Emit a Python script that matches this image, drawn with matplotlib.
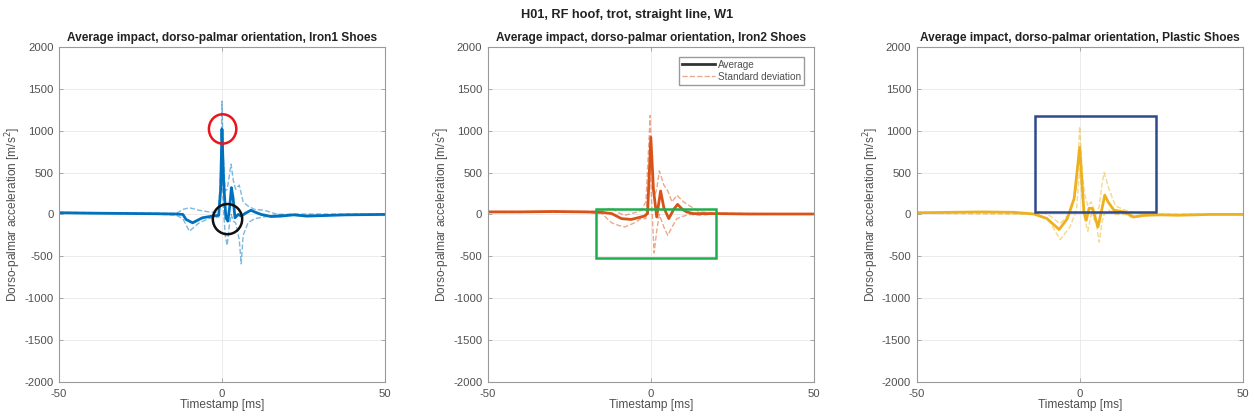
import matplotlib
matplotlib.use('Agg')
import matplotlib.pyplot as plt
import matplotlib.patches as mpatches
from matplotlib.lines import Line2D

plt.rcParams.update({
    'font.family': ['Liberation Sans', 'DejaVu Sans'],
    'font.size': 8,
    'axes.unicode_minus': False,
    'axes.edgecolor': '#9a9a9a',
    'axes.linewidth': 0.8,
    'xtick.color': '#9a9a9a',
    'ytick.color': '#9a9a9a',
    'xtick.labelcolor': '#505050',
    'ytick.labelcolor': '#505050',
})

# ---- data: mean and +/- std envelopes per shoe type ----
shoes = ['Iron1', 'Iron2', 'Plastic']
colors = ['#0072BD', '#D95319', '#EDB120']

t_iron1 = [-50, -40, -30, -20, -14, -12, -11, -9, -6, -3, -1, -0.4, 0, 0.5, 1.2, 1.8, 2.4, 2.9, 3.4, 4, 5, 6, 7, 8.9,
           10, 12, 15, 18, 22, 26, 30, 38, 50]
avg_iron1 = [20, 15, 12, 8, 5, 0, -60, -100, -40, -20, -10, 300, 1020, 400, -40, -80, 100, 320, 200, -40, 0, -20,
             10, 50, 30, 0, -25, -20, -5, -20, -15, -5, 0]
t_iron1_sd = [-50, -20, -14, -12, -10, -7, -4, -1, -0.3, 0, 0.4, 1, 1.6, 2.2, 2.8, 3.5, 4.2, 5.3, 5.9, 6.5, 8, 10,
              13, 17, 22, 50]
up_iron1 = [25, 15, 10, 60, 80, 50, 30, 20, 600, 1350, 700, 280, 300, 450, 600, 400, 300, 350, 250, 150, 100, 60,
            50, 0, 5, 5]
lo_iron1 = [15, 5, -10, -50, -200, -100, -50, -30, 300, 650, 100, -250, -370, -150, 0, -80, -100, -300, -590, -250,
            -100, -50, -30, 0, -10, -5]

t_iron2 = [-50, -40, -30, -20, -15, -12, -9, -6, -4, -2, -1, 0, 0.8, 1.8, 3, 4, 5.5, 7, 8.2, 9.7, 11, 13, 20, 30, 50]
avg_iron2 = [30, 30, 35, 30, 25, 10, -50, -60, -40, -20, 10, 920, 300, -30, 280, 80, -50, 60, 120, 60, 30, 10, 10,
             5, 5]
t_iron2_sd = [-50, -20, -15, -12, -10, -8, -5, -3, -1.5, -0.2, 0.3, 1, 1.8, 2.6, 4, 5.2, 6.5, 8, 10, 12, 15, 20, 50]
up_iron2 = [35, 35, 40, 80, 20, -10, 20, 50, 150, 1180, 600, 200, 300, 520, 350, 280, 150, 230, 150, 100, 30, 15, 5]
lo_iron2 = [25, 25, 10, -100, -130, -150, -100, -50, -50, 620, 100, -460, -200, 0, -150, -250, -150, -50, -20, 0,
            -10, 5, 5]

t_plastic = [-50, -40, -30, -20, -14, -10, -6.3, -3.8, -1.7, 0, 1.3, 2, 2.9, 3.9, 4.7, 5.6, 6.4, 7.7, 8.7, 10.5,
             13.6, 16.6, 19.7, 25, 30, 40, 50]
avg_plastic = [20, 25, 30, 25, 5, -50, -180, -50, 190, 800, 30, -70, 75, 70, -30, -150, -10, 230, 150, 50, 30,
               -30, -10, -5, -10, 0, 0]
t_plastic_sd = [-50, -14, -11, -9, -6, -3, -1, 0, 0.8, 1.5, 2.5, 3.5, 5, 6, 6.8, 7.5, 9, 11, 14, 16, 20, 25, 50]
up_plastic = [25, 10, 20, -20, -110, 20, 300, 1050, 500, 250, 100, 150, 0, 100, 350, 500, 300, 100, 50, 30, 0, 5,
              5]
lo_plastic = [15, 0, -30, -100, -300, -150, 50, 550, 150, -50, -200, 0, -100, -330, -100, 0, 50, 0, 0, -40, -20,
              0, 0]

times = [t_iron1, t_iron2, t_plastic]
avgs = [avg_iron1, avg_iron2, avg_plastic]
sd_times = [t_iron1_sd, t_iron2_sd, t_plastic_sd]
uppers = [up_iron1, up_iron2, up_plastic]
lowers = [lo_iron1, lo_iron2, lo_plastic]

fig = plt.figure(figsize=(12.54, 4.18), dpi=100)
lefts = [0.047, 0.389, 0.731]

for i in range(3):
    ax = fig.add_axes([lefts[i], 0.086, 0.26, 0.802])
    c = colors[i]
    ax.plot(sd_times[i], uppers[i], '--', color=c, lw=1.0, alpha=0.5)
    ax.plot(sd_times[i], lowers[i], '--', color=c, lw=1.0, alpha=0.5)
    ax.plot(times[i], avgs[i], '-', color=c, lw=2.0)

    ax.set_xlim(-50, 50)
    ax.set_ylim(-2000, 2000)
    ax.set_xticks([-50, 0, 50])
    ax.set_yticks(range(-2000, 2001, 500))
    ax.grid(True, color='#ebebeb', lw=0.7)
    ax.set_axisbelow(True)
    ax.tick_params(direction='in', top=True, right=True, length=3, width=0.6, labelsize=8.2)
    ax.tick_params(axis='x', pad=5)
    ax.tick_params(axis='y', pad=4)
    ax.set_title(f'Average impact, dorso-palmar orientation, {shoes[i]} Shoes',
                 fontsize=8.6, fontweight='bold', color='#222222', pad=4)
    ax.set_xlabel('Timestamp [ms]', fontsize=8.6, color='#505050', labelpad=0)
    ax.set_ylabel('Dorso-palmar acceleration [m/s$^2$]', fontsize=8.6, color='#505050', labelpad=0.5)

    if i == 0:
        ax.add_patch(mpatches.Ellipse((0.2, 1020), 8.4, 350, fill=False, ec='#E8151B', lw=1.8, zorder=5))
        ax.add_patch(mpatches.Ellipse((1.7, -56), 9.0, 360, fill=False, ec='#111111', lw=1.8, zorder=5))
    elif i == 1:
        ax.add_patch(mpatches.Rectangle((-16.9, -520), 37.0, 580, fill=False, ec='#1DAF4B', lw=1.8, zorder=5))
        handles = [Line2D([], [], color='#333333', lw=2.0),
                   Line2D([], [], color=c, lw=1.0, ls='--', alpha=0.5)]
        leg = ax.legend(handles, ['Average', 'Standard deviation'], loc='upper right', fontsize=7.2,
                        fancybox=False, edgecolor='#9a9a9a', framealpha=1, borderpad=0.3,
                        handlelength=3.3, handletextpad=0.3, labelspacing=0.2, borderaxespad=1.0)
        for txt in leg.get_texts():
            txt.set_color('#505050')
    else:
        ax.add_patch(mpatches.Rectangle((-13.6, 28), 37.0, 1142, fill=False, ec='#2E4A8A', lw=1.8, zorder=5))

fig.suptitle('H01, RF hoof, trot, straight line, W1', fontsize=9.2, fontweight='bold', color='#222222', y=0.978)

fig.savefig('out.png', dpi=100)
